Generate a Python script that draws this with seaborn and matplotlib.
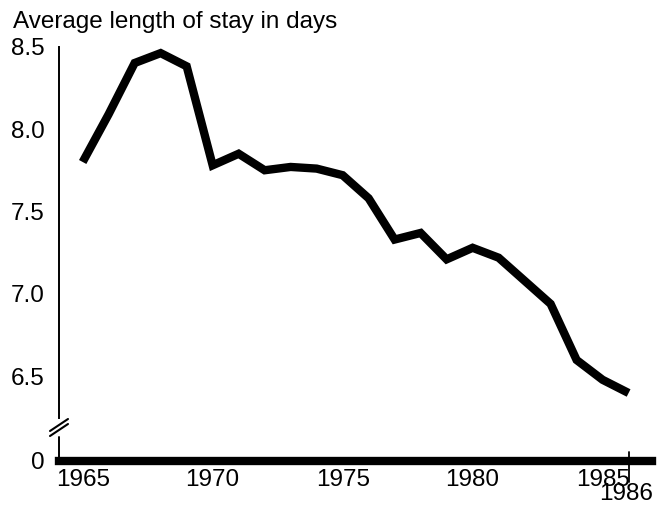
import pandas as pd
import matplotlib
matplotlib.use("Agg")
import matplotlib.pyplot as plt
import seaborn as sns


YEARS = list(range(1965, 1987))
STAY_DAYS = [7.80, 8.09, 8.40, 8.46, 8.38, 7.78, 7.85, 7.75, 7.77, 7.76, 7.72,
             7.58, 7.33, 7.37, 7.21, 7.28, 7.22, 7.08, 6.94, 6.60, 6.48, 6.40]

X_TICKS = [1965, 1970, 1975, 1980, 1985]
LAST_YEAR = 1986
Y_TICKS = [6.5, 7.0, 7.5, 8.0, 8.5]
Y_TICK_LABELS = ["6.5", "7.0", "7.5", "8.0", "8.5"]
ZERO_LABEL = "0"
TITLE = "Average length of stay in days"

W, H = 668, 507
FS = 17.5


def fx(px):
    return px / W


def fy(py):
    return 1 - py / H


sns.set_style("white")
plt.rcParams["font.family"] = ["Liberation Sans", "DejaVu Sans"]
plt.rcParams["text.color"] = "black"
plt.rcParams["xtick.color"] = "black"
plt.rcParams["ytick.color"] = "black"

df = pd.DataFrame({"year": YEARS, "days": STAY_DAYS})

fig = plt.figure(figsize=(W / 100, H / 100), dpi=100)
ax = fig.add_axes([fx(58.5), 46.5 / H, (652 - 58.5) / W, (460.5 - 46.5) / H])

sns.lineplot(data=df, x="year", y="days", color="black", linewidth=6, ax=ax,
             solid_joinstyle="miter", solid_capstyle="butt")

y_bottom = 8.5 - (460.5 - 46.5) / 165
ax.set_xlim(1964.07, 1986.9)
ax.set_ylim(y_bottom, 8.5)

# y axis: fake "0" at the bottom of the broken axis
ax.set_yticks([y_bottom] + Y_TICKS)
ax.set_yticklabels([ZERO_LABEL] + Y_TICK_LABELS)
ax.tick_params(axis="y", direction="in", length=6, width=1.3, pad=10,
               labelsize=FS, colors="black")
ax.yaxis.get_major_ticks()[0].tick1line.set_visible(False)

ax.set_xticks(X_TICKS)
ax.set_xticklabels([str(y) for y in X_TICKS])
ax.tick_params(axis="x", direction="in", length=8, width=1.3, pad=6,
               labelsize=FS, colors="black")

for side in ["top", "right"]:
    ax.spines[side].set_visible(False)
ax.spines["bottom"].set_linewidth(6)
ax.spines["bottom"].set_color("black")
ax.spines["left"].set_linewidth(1.4)
ax.spines["left"].set_color("black")
ax.spines["left"].set_bounds(8.5 - (418 - 46.5) / 165, 8.5)

# lower piece of the y axis and the break marks
ax.plot([fx(59), fx(59)], [fy(437), fy(460)], transform=fig.transFigure,
        color="black", linewidth=1.4, clip_on=False)
for dy in [0, 5]:
    ax.plot([fx(50), fx(68)], [fy(431 + dy), fy(419 + dy)],
            transform=fig.transFigure, color="black", linewidth=1.5,
            clip_on=False)

# 1986 marker below the axis
ax.axvline(LAST_YEAR, ymin=-0.052, ymax=0.02, color="black", linewidth=1.3,
           clip_on=False)
ax.annotate(str(LAST_YEAR), xy=(LAST_YEAR, 0), xycoords=("data", "axes fraction"),
            xytext=(-2, -16), textcoords="offset points", ha="center", va="top",
            fontsize=FS)

ax.set_xlabel("")
ax.set_ylabel("")
fig.text(fx(13), fy(28), TITLE, ha="left", va="baseline", fontsize=FS)

fig.savefig("out.png", dpi=100)
